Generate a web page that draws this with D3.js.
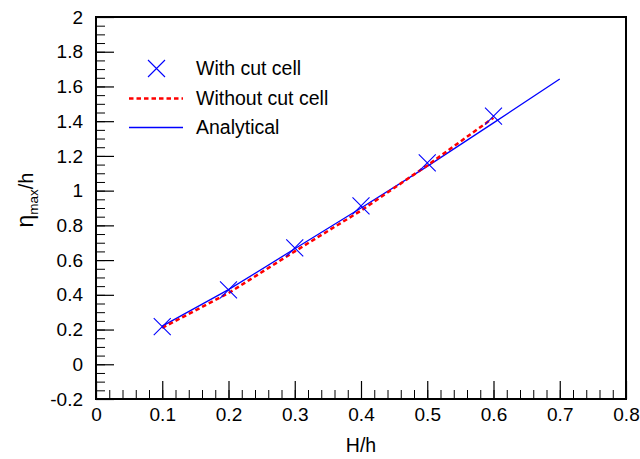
<!DOCTYPE html>
<html>
<head>
<meta charset="utf-8">
<script src="https://cdn.jsdelivr.net/npm/d3@7"></script>
<style>
  html, body { margin: 0; padding: 0; background: #fff; }
  svg { display: block; }
  text { font-family: "Liberation Sans", Arial, Helvetica, sans-serif; fill: #000; }
</style>
</head>
<body>
<svg id="chart" width="640" height="459"></svg>
<script>
// ---- data ----
const xTickValues = [0, 0.1, 0.2, 0.3, 0.4, 0.5, 0.6, 0.7, 0.8];
const yTickValues = [-0.2, 0, 0.2, 0.4, 0.6, 0.8, 1, 1.2, 1.4, 1.6, 1.8, 2];

const cutCellX = [0.1, 0.2, 0.3, 0.4, 0.5, 0.6];
const cutCellY = [0.217, 0.428, 0.67, 0.912, 1.16, 1.429];

const noCutCellX = [0.1, 0.2, 0.3, 0.4, 0.5, 0.6];
const noCutCellY = [0.21, 0.41, 0.65, 0.885, 1.145, 1.42];

const analyticalX = [0.1, 0.2, 0.3, 0.4, 0.5, 0.6, 0.7];
const analyticalY = [0.22, 0.43, 0.665, 0.9, 1.14, 1.39, 1.643];

const legendLabels = ["With cut cell", "Without cut cell", "Analytical"];
const xTitle = "H/h";

// ---- layout ----
const svg = d3.select("#chart");
const mLeft = 96, mRight = 626, mTop = 17, mBottom = 399;
const x = d3.scaleLinear().domain([0, 0.8]).range([mLeft, mRight]);
const y = d3.scaleLinear().domain([-0.2, 2]).range([mBottom, mTop]);

const fontSize = 19;
const fmt = d => String(+(+d).toFixed(1));  // plain hyphen minus

// minor ticks
const xMinor = d3.range(0, 0.8001, 0.02);
const yMinor = d3.range(-0.2, 2.0001, 0.05);

svg.append("g")
  .attr("transform", `translate(0,${mBottom})`)
  .call(d3.axisBottom(x).tickValues(xMinor).tickSize(-9).tickFormat(""))
  .call(g => g.select(".domain").remove())
  .call(g => g.selectAll("line").attr("stroke", "#000").attr("stroke-width", 1));

svg.append("g")
  .attr("transform", `translate(${mLeft},0)`)
  .call(d3.axisLeft(y).tickValues(yMinor).tickSize(-9).tickFormat(""))
  .call(g => g.select(".domain").remove())
  .call(g => g.selectAll("line").attr("stroke", "#000").attr("stroke-width", 1));

// major ticks
svg.append("g")
  .attr("transform", `translate(0,${mBottom})`)
  .call(d3.axisBottom(x).tickValues(xTickValues).tickSize(-18).tickPadding(8.5).tickFormat(fmt))
  .call(g => g.select(".domain").remove())
  .call(g => g.selectAll("line").attr("stroke", "#000").attr("stroke-width", 1.2))
  .call(g => g.selectAll("text").attr("font-size", fontSize)
        .style("font-family", '"Liberation Sans", Arial, sans-serif').attr("fill", "#000"));

svg.append("g")
  .attr("transform", `translate(${mLeft},0)`)
  .call(d3.axisLeft(y).tickValues(yTickValues).tickSize(-18).tickPadding(13).tickFormat(fmt))
  .call(g => g.select(".domain").remove())
  .call(g => g.selectAll("line").attr("stroke", "#000").attr("stroke-width", 1.2))
  .call(g => g.selectAll("text").attr("font-size", fontSize)
        .style("font-family", '"Liberation Sans", Arial, sans-serif').attr("fill", "#000"));

// frame
svg.append("rect")
  .attr("x", mLeft).attr("y", mTop)
  .attr("width", mRight - mLeft).attr("height", mBottom - mTop)
  .attr("fill", "none").attr("stroke", "#000").attr("stroke-width", 2);

// lines
const line = d3.line().x(d => x(d[0])).y(d => y(d[1]));

svg.append("path")
  .datum(analyticalX.map((v, i) => [v, analyticalY[i]]))
  .attr("d", line)
  .attr("fill", "none").attr("stroke", "#0000ff").attr("stroke-width", 1.3);

svg.append("path")
  .datum(noCutCellX.map((v, i) => [v, noCutCellY[i]]))
  .attr("d", line)
  .attr("fill", "none").attr("stroke", "#ff0000").attr("stroke-width", 2.5)
  .attr("stroke-dasharray", "4.5,3");

// markers
const ms = 8.5;
function cross(g, cx, cy) {
  g.append("path")
    .attr("d", `M${cx - ms},${cy - ms}L${cx + ms},${cy + ms}M${cx - ms},${cy + ms}L${cx + ms},${cy - ms}`)
    .attr("stroke", "#0000ff").attr("stroke-width", 1.1).attr("fill", "none");
}
const mg = svg.append("g");
cutCellX.forEach((v, i) => cross(mg, x(v), y(cutCellY[i])));

// legend
const lg = svg.append("g");
cross(lg, 156.5, 68.5);
lg.append("line").attr("x1", 129).attr("x2", 183).attr("y1", 98.5).attr("y2", 98.5)
  .attr("stroke", "#ff0000").attr("stroke-width", 2.5).attr("stroke-dasharray", "4.5,3");
lg.append("line").attr("x1", 129).attr("x2", 183).attr("y1", 127.5).attr("y2", 127.5)
  .attr("stroke", "#0000ff").attr("stroke-width", 1.3);
[68.5, 98.5, 127.5].forEach((cy, i) => {
  lg.append("text").attr("x", 196).attr("y", cy).attr("dy", "0.35em")
    .attr("font-size", 19.5).text(legendLabels[i]);
});

// axis titles
svg.append("text").attr("x", (mLeft + mRight) / 2).attr("y", 452)
  .attr("text-anchor", "middle").attr("font-size", 19.5).text(xTitle);

const yt = svg.append("text")
  .attr("transform", "translate(33,200) rotate(-90)")
  .attr("text-anchor", "middle").attr("font-size", 20);
yt.append("tspan").attr("font-size", 23).text("η");
yt.append("tspan").attr("font-size", 13.5).attr("dy", 5).text("max");
yt.append("tspan").attr("dy", -5).text("/h");
</script>
</body>
</html>
